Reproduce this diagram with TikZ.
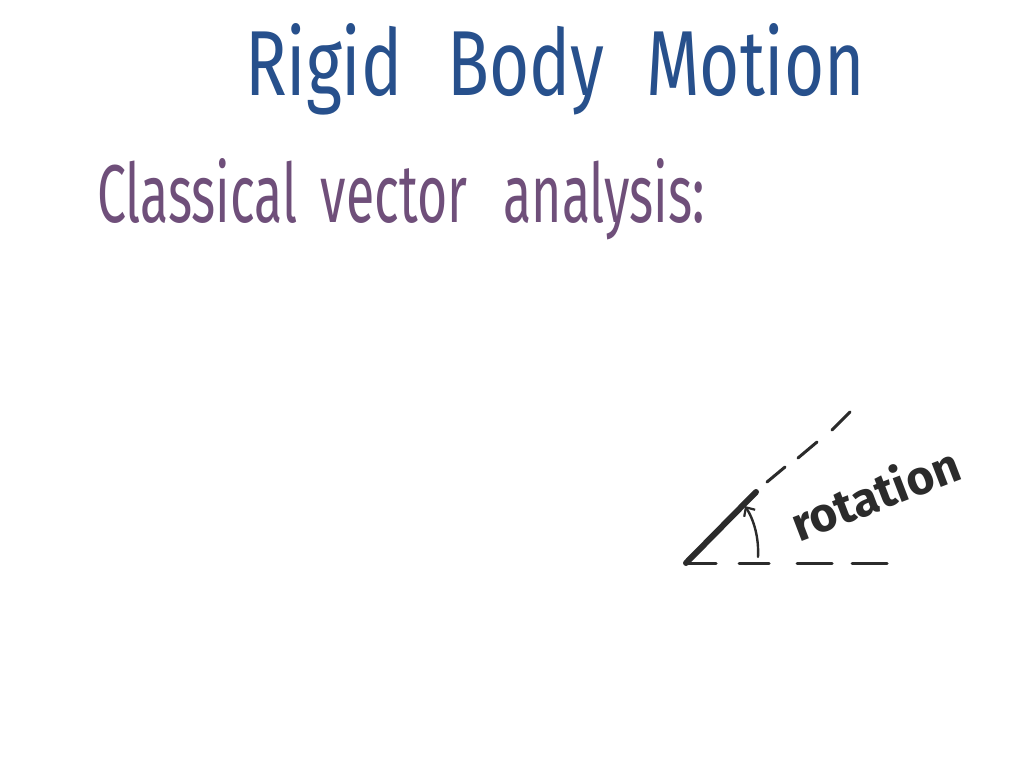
\documentclass[tikz,border=0pt]{standalone}
\usepackage{fontspec}
\setmainfont{Fira Sans}
\usetikzlibrary{arrows.meta}
\definecolor{titleblue}{HTML}{27508C}
\definecolor{subpurple}{HTML}{6F4F7A}
\definecolor{ink}{HTML}{2B2B2B}
\tikzset{
  txt/.style={anchor=base west, inner sep=0pt, outer sep=0pt},
  thickstroke/.style={ink, line width=6pt, line cap=round},
  dashstroke/.style={ink, line width=3pt, line cap=round},
  arcstroke/.style={ink, line width=2.4pt, line cap=round, -{Straight Barb[length=7pt,width=13pt,line width=2.2pt]}}
}
\begin{document}
\begin{tikzpicture}[x=1pt,y=-1pt]
\useasboundingbox[fill=white] (0,0) rectangle (1024,768);
% texts
\node[txt, text=titleblue] (title) at (245,95) {\resizebox{620pt}{72pt}{\fontsize{80}{80}\selectfont Rigid\hspace{0.65em}Body\hspace{0.6em}Motion}};
\node[txt, text=subpurple] (sub) at (97,222) {\resizebox{608pt}{64pt}{\fontsize{60}{60}\selectfont Classical\hspace{0.45em}vector\hspace{0.7em}analysis:}};
\node[txt, text=ink, rotate=21] (rot) at (799,542) {\resizebox{177pt}{!}{\fontsize{42}{42}\selectfont\bfseries rotation}};
% geometry
\coordinate (o) at (686,563);
\coordinate (t) at (756,492);
\coordinate (d1a) at (767,482); \coordinate (d1b) at (785,467);
\coordinate (d2a) at (798,458); \coordinate (d2b) at (817,442);
\coordinate (d3a) at (832,430); \coordinate (d3b) at (850,412);
\coordinate (h) at (887,563);
\coordinate (a1) at (758,557);
\coordinate (a2) at (745,506);
\draw[thickstroke] (o) -- (t);
\draw[dashstroke] (d1a) -- (d1b);
\draw[dashstroke] (d2a) -- (d2b);
\draw[dashstroke] (d3a) -- (d3b);
\draw[dashstroke, dash pattern=on 30pt off 23pt on 30pt off 28pt on 35pt off 20pt on 40pt] (o) -- (h);
\draw[arcstroke] (a1) .. controls (759,538) and (754,520) .. (a2);
\end{tikzpicture}
\end{document}
